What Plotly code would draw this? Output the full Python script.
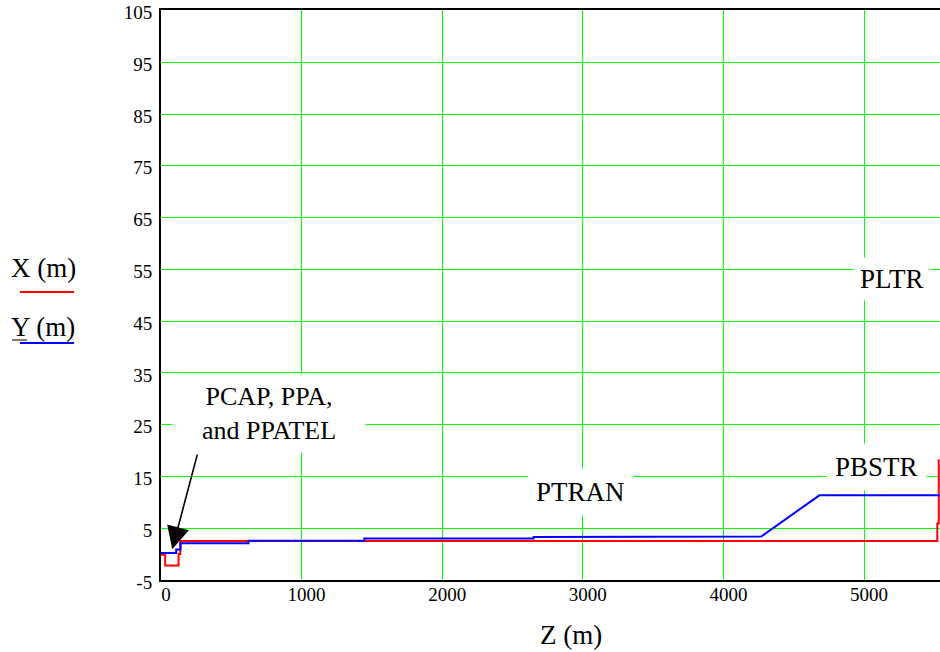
import plotly.graph_objects as go

# ---- data ----
z_red = [0, 30, 30, 125, 125, 137, 137, 5521, 5521, 5531, 5531]
x_red = [-0.1, -0.1, -2.2, -2.2, 0.0, 0.0, 2.55, 2.55, 5.9, 5.9, 18.3]

z_blue = [0, 108, 108, 139, 139, 622, 622, 1446, 1446, 2650, 2650, 4268, 4682, 5545]
y_blue = [0.2, 0.2, 0.9, 0.9, 2.1, 2.1, 2.6, 2.6, 3.0, 3.0, 3.3, 3.4, 11.35, 11.35]

x_ticks = [0, 1000, 2000, 3000, 4000, 5000]
y_ticks = [-5, 5, 15, 25, 35, 45, 55, 65, 75, 85, 95, 105]

labels = ["PCAP, PPA,<br>and PPATEL", "PTRAN", "PBSTR", "PLTR"]
arrow_target = (80, 0.96)
arrow_tail = (261, 19.5)

# ---- layout geometry ----
W, H = 940, 652
L, R, T, B = 161, 0, 10, 72
PW, PH = W - L - R, H - T - B

def px(x):
    return (x - L) / PW

def py(y):
    return (H - B - y) / PH

FONT = "Liberation Serif"
GRID = "#00ff00"

fig = go.Figure()
fig.add_trace(go.Scatter(x=z_red, y=x_red, mode="lines",
                         line=dict(color="#ff0000", width=2), name="X (m)"))
fig.add_trace(go.Scatter(x=z_blue, y=y_blue, mode="lines",
                         line=dict(color="#0000ff", width=2), name="Y (m)"))

fig.update_layout(
    width=W, height=H,
    margin=dict(l=L, r=R, t=T, b=B, autoexpand=False),
    paper_bgcolor="white", plot_bgcolor="white",
    showlegend=False,
    font=dict(family=FONT, color="black", size=19),
)
fig.update_xaxes(
    range=[0, 5540], tickvals=x_ticks, ticktext=[str(v) for v in x_ticks],
    showgrid=True, gridcolor=GRID, gridwidth=1, zeroline=False,
    showline=True, linecolor="black", linewidth=2, mirror=True,
    ticks="", tickfont=dict(size=19, family=FONT), ticklabelstandoff=-4,
    ticklabelshift=5,
)
fig.update_yaxes(
    range=[-5, 105.1], tickvals=y_ticks, ticktext=[str(v) for v in y_ticks],
    showgrid=True, gridcolor=GRID, gridwidth=1, zeroline=False,
    showline=True, linecolor="black", linewidth=2, mirror=False,
    ticks="", tickfont=dict(size=19, family=FONT), ticklabelstandoff=3,
    ticklabelshift=2, ticklabeloverflow="allow",
)

ann = []
# text labels with white boxes
ann.append(dict(x=px(269), y=py(413.5), xref="paper", yref="paper", text=labels[0],
                showarrow=False, xanchor="center", yanchor="middle",
                font=dict(size=26, family=FONT), bgcolor="white",
                width=172, height=57, borderpad=10, align="center"))
ann.append(dict(x=px(580), y=py(492), xref="paper", yref="paper", text=labels[1],
                showarrow=False, xanchor="center", yanchor="middle",
                font=dict(size=27, family=FONT), bgcolor="white", borderpad=8))
ann.append(dict(x=px(876), y=py(467), xref="paper", yref="paper", text=labels[2],
                showarrow=False, xanchor="center", yanchor="middle",
                font=dict(size=27, family=FONT), bgcolor="white", borderpad=8))
ann.append(dict(x=px(892), y=py(279), xref="paper", yref="paper", text=labels[3],
                showarrow=False, xanchor="center", yanchor="middle",
                font=dict(size=27, family=FONT), bgcolor="white", borderpad=6))
# arrow
ann.append(dict(x=arrow_target[0], y=arrow_target[1], xref="x", yref="y",
                ax=arrow_tail[0], ay=arrow_tail[1], axref="x", ayref="y",
                text="", showarrow=True, arrowhead=2, arrowsize=2.8,
                arrowwidth=1.6, arrowcolor="black"))
# axis title
ann.append(dict(x=px(571), y=py(635), xref="paper", yref="paper", text="Z (m)",
                showarrow=False, xanchor="center", yanchor="middle",
                font=dict(size=27, family=FONT)))
# left-side legend labels
ann.append(dict(x=px(43), y=py(268), xref="paper", yref="paper", text="X (m)",
                showarrow=False, xanchor="center", yanchor="middle",
                font=dict(size=27, family=FONT)))
ann.append(dict(x=px(43), y=py(327), xref="paper", yref="paper", text="Y (m)",
                showarrow=False, xanchor="center", yanchor="middle",
                font=dict(size=27, family=FONT)))
fig.update_layout(annotations=ann)

fig.update_layout(shapes=[
    dict(type="line", xref="paper", yref="paper", x0=px(20), x1=px(74),
         y0=py(292), y1=py(292), line=dict(color="#ff0000", width=2)),
    dict(type="line", xref="paper", yref="paper", x0=px(20), x1=px(74),
         y0=py(343), y1=py(343), line=dict(color="#0000ff", width=2)),
    dict(type="line", xref="paper", yref="paper", x0=px(12), x1=px(27),
         y0=py(340), y1=py(340), line=dict(color="black", width=1)),
])

fig.write_html("out.html")
